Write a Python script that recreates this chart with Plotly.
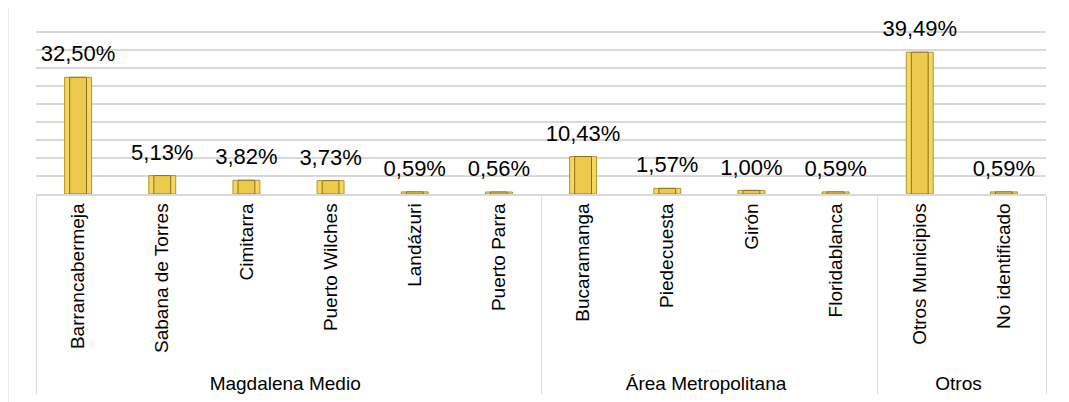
import plotly.graph_objects as go

grupos = ["Magdalena Medio"] * 6 + ["Área Metropolitana"] * 4 + ["Otros"] * 2
municipios = ["Barrancabermeja", "Sabana de Torres", "Cimitarra", "Puerto Wilches",
              "Landázuri", "Puerto Parra", "Bucaramanga", "Piedecuesta", "Girón",
              "Floridablanca", "Otros Municipios", "No identificado"]
valores = [32.50, 5.13, 3.82, 3.73, 0.59, 0.56, 10.43, 1.57, 1.00, 0.59, 39.49, 0.59]
etiquetas = [f"{v:.2f}%".replace(".", ",") for v in valores]

FONT = "Arial, Liberation Sans, sans-serif"
x = [grupos, municipios]

fig = go.Figure()
fig.add_trace(go.Bar(x=x, y=valores, width=0.32,
                     marker=dict(color="#F4D760", line=dict(color="#B39430", width=1)),
                     hoverinfo="skip"))
fig.add_trace(go.Bar(x=x, y=valores, width=0.2,
                     marker=dict(color="#EDCA4D", line=dict(color="#8C7020", width=1)),
                     hoverinfo="skip"))
fig.add_trace(go.Scatter(x=x, y=valores, mode="markers+text", text=etiquetas,
                         textposition="top center",
                         marker=dict(size=15, opacity=0),
                         textfont=dict(family=FONT, size=22, color="#000000"),
                         hoverinfo="skip", cliponaxis=False))

fig.update_layout(
    width=1061, height=394,
    margin=dict(l=28, r=23, t=23, b=208),
    paper_bgcolor="white", plot_bgcolor="white",
    barmode="overlay", showlegend=False,
    font=dict(family=FONT, size=18, color="#000000"),
    shapes=[dict(type="rect", xref="paper", yref="paper",
                 x0=-0.0277, x1=1.0208, y0=-1.5, y1=1.17,
                 line=dict(color="#D9D9D9", width=1), layer="below")],
)
fig.update_yaxes(range=[0, 45.4], dtick=5, showticklabels=False, showgrid=True,
                 gridcolor="#D9D9D9", gridwidth=1.5, zeroline=False, ticks="",
                 automargin=False)
fig.update_xaxes(type="multicategory", range=[-0.5, 11.5], tickangle=-90,
                 showdividers=True, dividercolor="#D9D9D9", dividerwidth=1,
                 showline=True, linecolor="#D9D9D9", linewidth=1.5, ticks="",
                 automargin=False,
                 tickfont=dict(family=FONT, size=19, color="#000000"))

fig.write_html("out.html")
